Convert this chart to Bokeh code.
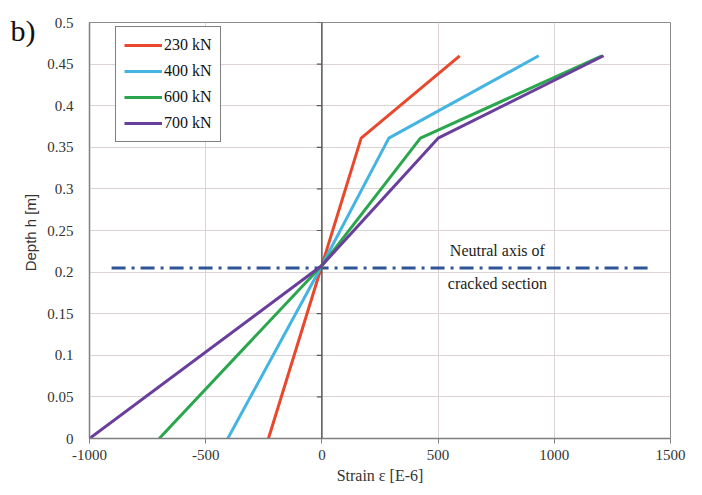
from bokeh.plotting import figure
from bokeh.models import FixedTicker, Legend, LegendItem, Span, Label, LinearAxis
from bokeh.embed import file_html
from bokeh.resources import INLINE

# Data
loads = ["230 kN", "400 kN", "600 kN", "700 kN"]
colors = ["#E8482C", "#44B4E3", "#2AA64C", "#6A3E9C"]
depth = [0.0, 0.208, 0.361, 0.46]
strain_230 = [-230, 0, 169, 593]
strain_400 = [-405, 0, 288, 933]
strain_600 = [-700, 0, 424, 1205]
strain_700 = [-1000, 0, 500, 1212]
series = [strain_230, strain_400, strain_600, strain_700]

x_ticks = [-1000, -500, 0, 500, 1000, 1500]
y_ticks = [0, 0.05, 0.1, 0.15, 0.2, 0.25, 0.3, 0.35, 0.4, 0.45, 0.5]
y_labels = ["0", "0.05", "0.1", "0.15", "0.2", "0.25", "0.3", "0.35", "0.4", "0.45", "0.5"]
neutral_axis = 0.205
neutral_x = [-905, 1412]
panel_tag = "b)"
panel_tag_y = 0.49

serif = "Liberation Serif"

p = figure(width=694, height=487, x_range=(-1000, 1500), y_range=(0, 0.5),
           output_backend="svg", toolbar_location=None,
           min_border_left=89, min_border_right=24, min_border_top=22, min_border_bottom=49)
p.background_fill_color = "white"
p.border_fill_color = "white"
p.outline_line_color = "#8c8c8c"
p.outline_line_width = 1

p.xaxis.ticker = FixedTicker(ticks=x_ticks)
p.yaxis.ticker = FixedTicker(ticks=y_ticks)
p.yaxis.major_label_overrides = {v: s for v, s in zip(y_ticks, y_labels)}
p.xaxis.major_label_overrides = {v: str(v) for v in x_ticks}
for ax in (p.xaxis, p.yaxis):
    ax.major_label_text_font = serif
    ax.major_label_text_font_size = "15px"
    ax.major_label_text_color = "#333333"
    ax.axis_line_color = "#7f7f7f"
    ax.axis_line_width = 1.5
    ax.minor_tick_line_color = None
    ax.axis_label_text_font_style = "normal"
    ax.axis_label_text_color = "#333333"
p.xaxis.major_tick_line_color = "#7f7f7f"
p.xaxis.major_tick_in = 0
p.xaxis.major_tick_out = 5
p.yaxis.major_tick_line_color = None
p.yaxis.major_label_standoff = 10
p.xaxis.major_label_standoff = 6

p.xaxis.axis_label = "Strain ε [E-6]"
p.xaxis.axis_label_text_font = serif
p.xaxis.axis_label_text_font_size = "16px"
p.xaxis.axis_label_standoff = 4
p.yaxis.axis_label = "Depth  h [m]"
p.yaxis.axis_label_text_font = "Liberation Sans"
p.yaxis.axis_label_text_font_size = "15px"
p.yaxis.axis_label_standoff = 5

p.xgrid.grid_line_color = "#dcd4d4"
p.ygrid.grid_line_color = "#dcd4d4"
p.xgrid.grid_line_width = 1
p.ygrid.grid_line_width = 1

# panel tag "b)" drawn as the label of an outer, invisible left axis
tag_axis = LinearAxis(ticker=FixedTicker(ticks=[panel_tag_y]),
                      major_label_overrides={panel_tag_y: panel_tag})
tag_axis.axis_line_color = None
tag_axis.major_tick_line_color = None
tag_axis.minor_tick_line_color = None
tag_axis.major_tick_out = 0
tag_axis.major_tick_in = 0
tag_axis.major_label_standoff = -16
tag_axis.major_label_text_font = serif
tag_axis.major_label_text_font_size = "30px"
tag_axis.major_label_text_color = "#111111"
p.add_layout(tag_axis, "left")

# vertical zero line with ticks
p.add_layout(Span(location=0, dimension="height", line_color="#595959", line_width=1.5))
p.segment(x0=[-22] * len(y_ticks), x1=[0] * len(y_ticks), y0=y_ticks, y1=y_ticks,
          line_color="#595959", line_width=1.2)

# neutral axis
p.line(neutral_x, [neutral_axis, neutral_axis], line_color="#2F5597", line_width=3,
       line_dash="14 6 3 6")
p.add_layout(Label(x=755, y=0.226, text="Neutral axis of", text_font=serif,
                   text_font_size="16px", text_align="center", text_baseline="middle",
                   text_color="#222222"))
p.add_layout(Label(x=755, y=0.186, text="cracked section", text_font=serif,
                   text_font_size="16px", text_align="center", text_baseline="middle",
                   text_color="#222222"))

items = []
for name, col, xs in zip(loads, colors, series):
    r = p.line(xs, depth, line_color=col, line_width=3)
    items.append(LegendItem(label=name, renderers=[r]))

legend = Legend(items=items, location=(26, 296))
legend.label_text_font = serif
legend.label_text_font_size = "16px"
legend.label_text_color = "#111111"
legend.border_line_color = "black"
legend.border_line_width = 1.5
legend.glyph_width = 38
legend.glyph_height = 20
legend.spacing = 6
legend.padding = 8
legend.label_standoff = 2
legend.label_height = 20
p.add_layout(legend)

open("out.html", "w").write(file_html(p, INLINE))
